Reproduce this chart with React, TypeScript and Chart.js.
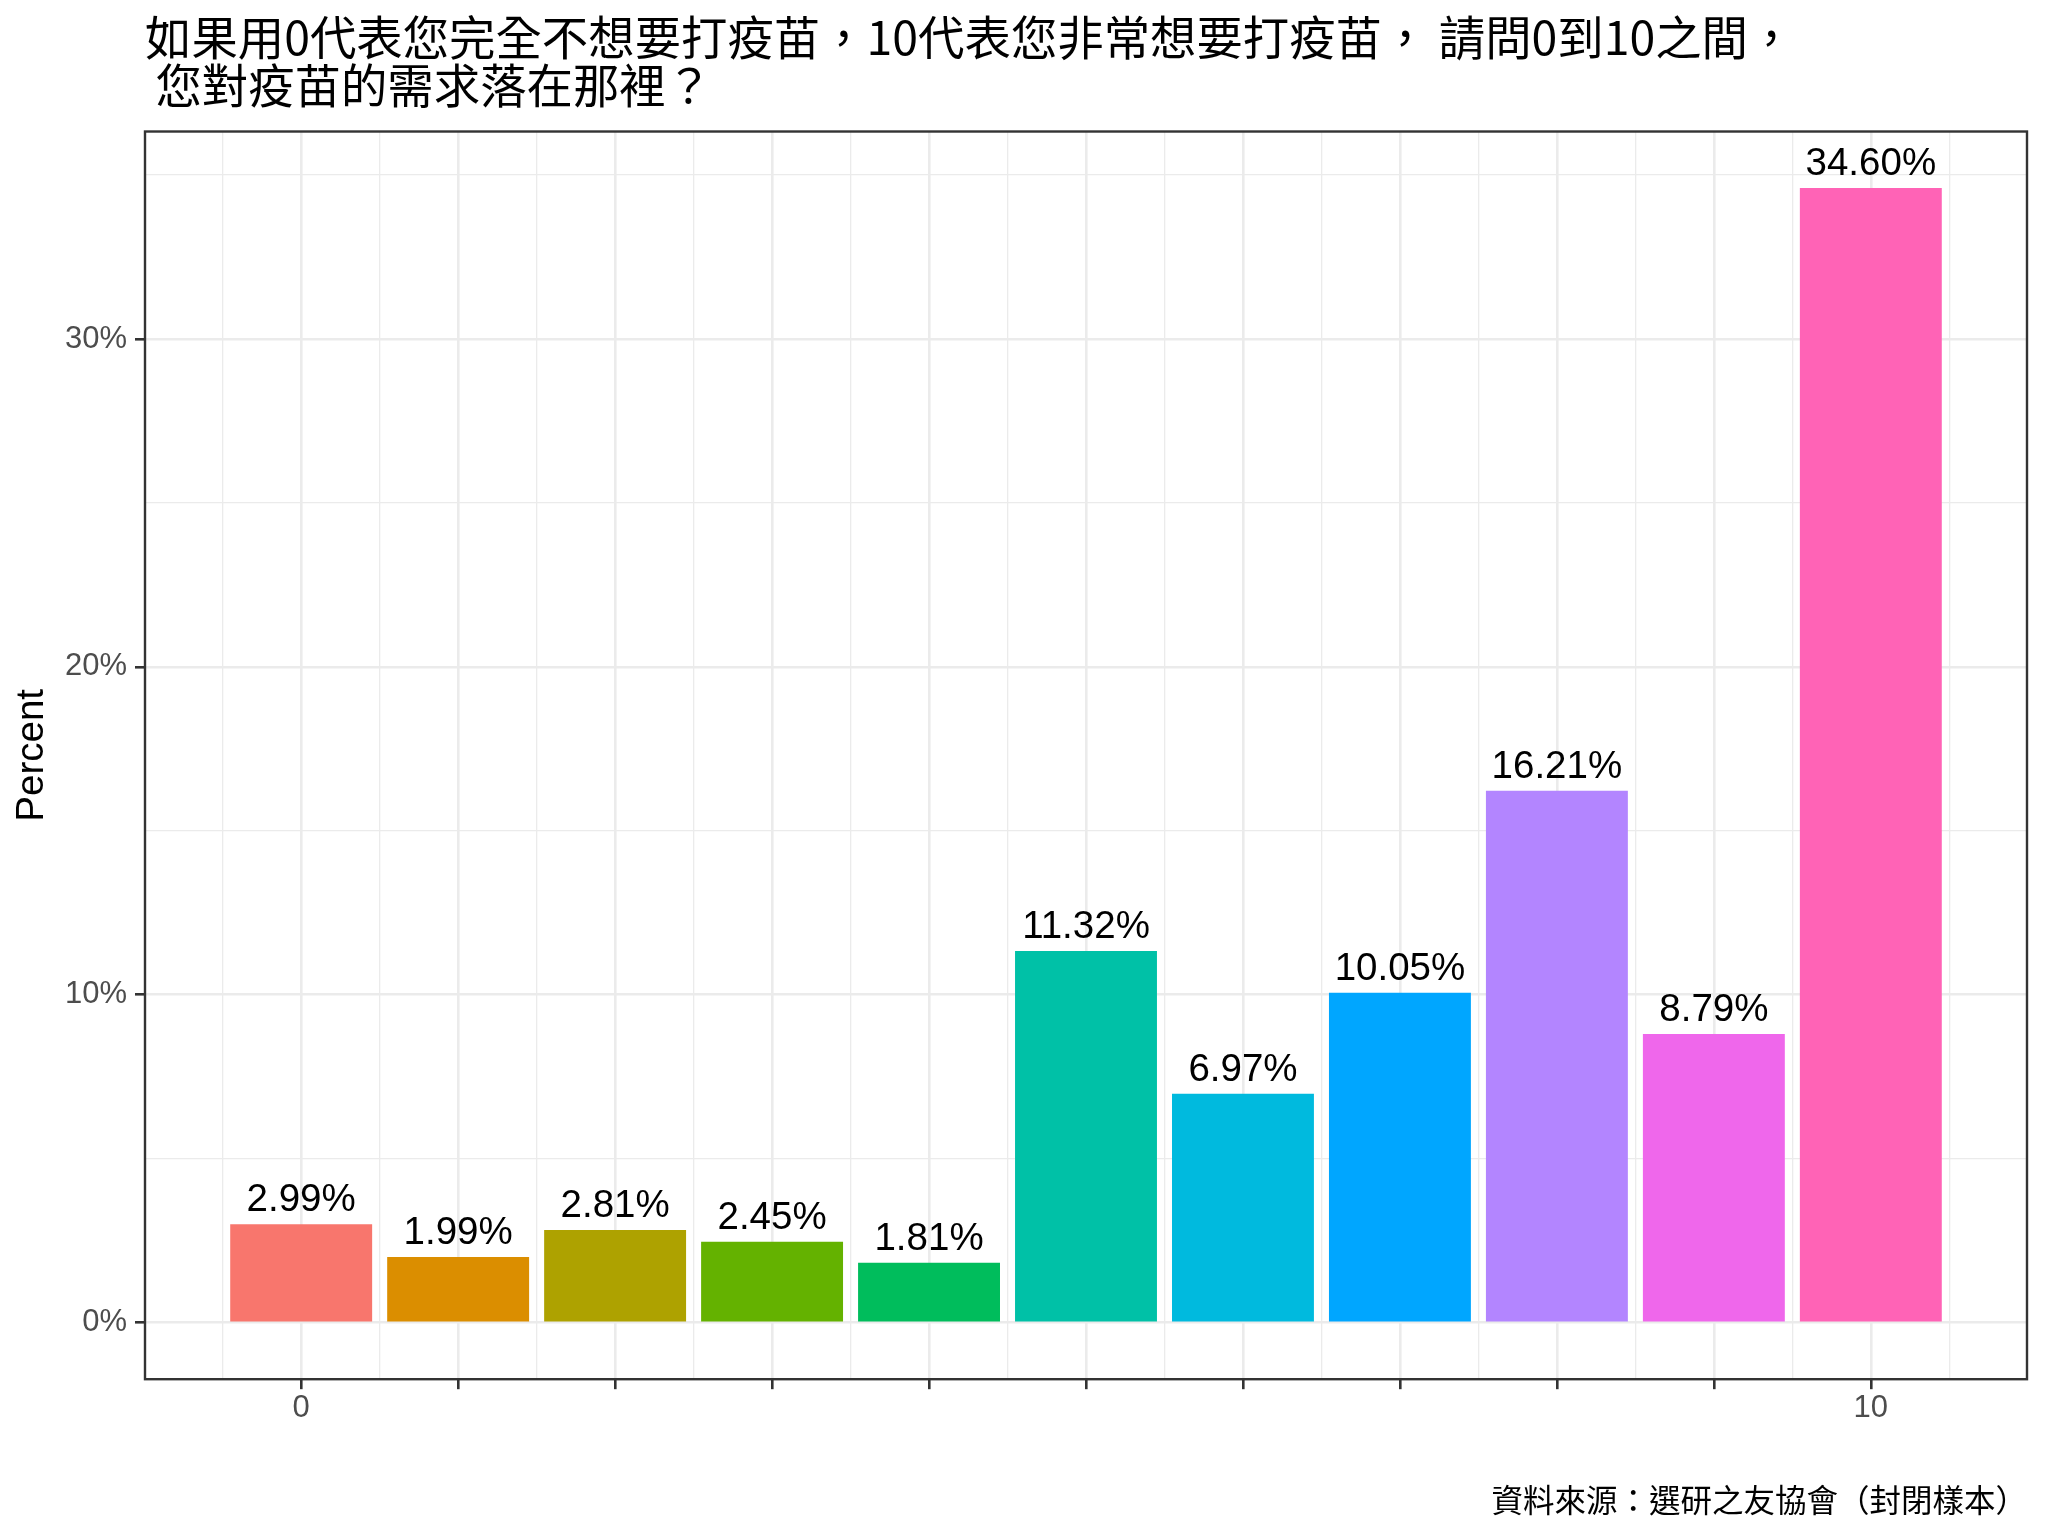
import { useEffect, useRef } from "react";
import { Chart, registerables } from "chart.js";
import type { Plugin } from "chart.js";

Chart.register(...registerables);

// Data
const scores = [0, 1, 2, 3, 4, 5, 6, 7, 8, 9, 10];
const percents = [2.99, 1.99, 2.81, 2.45, 1.81, 11.32, 6.97, 10.05, 16.21, 8.79, 34.6];
const barColors = [
  "#F8766D",
  "#DB8E00",
  "#AEA200",
  "#64B200",
  "#00BD5C",
  "#00C1A7",
  "#00BADE",
  "#00A6FF",
  "#B385FF",
  "#EF67EB",
  "#FF63B6",
];

// grid / tick positions
const xGridValues = [
  -0.5, 0, 0.5, 1, 1.5, 2, 2.5, 3, 3.5, 4, 4.5, 5, 5.5, 6, 6.5, 7, 7.5, 8, 8.5, 9, 9.5, 10, 10.5,
];
const xLabeledTicks = [0, 10];
const yGridValues = [0, 5, 10, 15, 20, 25, 30, 35];
const yLabeledTicks = [0, 10, 20, 30];

const titleLines = [
  "如果用0代表您完全不想要打疫苗，10代表您非常想要打疫苗， 請問0到10之間，",
  " 您對疫苗的需求落在那裡？",
];
const captionText = "資料來源：選研之友協會（封閉樣本）";
const yAxisTitle = "Percent";

const CJK = "'Noto Sans CJK TC', 'Noto Sans CJK SC', sans-serif";
const SANS = "'Liberation Sans', Arial, sans-serif";

const GRID = "#EBEBEB";
const DARK = "#333333";

// value labels above bars
const barLabels: Plugin<"bar"> = {
  id: "barLabels",
  afterDatasetsDraw(chart) {
    const { ctx } = chart;
    const meta = chart.getDatasetMeta(0);
    ctx.save();
    ctx.font = `38.5px ${SANS}`;
    ctx.fillStyle = "#000000";
    ctx.textAlign = "center";
    ctx.textBaseline = "alphabetic";
    meta.data.forEach((el, i) => {
      ctx.fillText(percents[i].toFixed(2) + "%", el.x, el.y - 13);
    });
    ctx.restore();
  },
};

// ggplot-ish panel border
const panelBorder: Plugin<"bar"> = {
  id: "panelBorder",
  afterDraw(chart) {
    const { ctx, chartArea } = chart;
    ctx.save();
    ctx.strokeStyle = DARK;
    ctx.lineWidth = 2.4;
    ctx.strokeRect(chartArea.left, chartArea.top, chartArea.width, chartArea.height);
    ctx.restore();
  },
};

export default function App() {
  const chartRef = useRef<HTMLCanvasElement>(null);
  const chartInstance = useRef<Chart<"bar"> | null>(null);

  useEffect(() => {
    document.body.style.margin = "0";
    if (!chartRef.current) return;

    if (chartInstance.current) {
      chartInstance.current.destroy();
    }

    chartInstance.current = new Chart(chartRef.current, {
      type: "bar",
      data: {
        datasets: [
          {
            data: scores.map((s, i) => ({ x: s, y: percents[i] })),
            backgroundColor: barColors,
            borderWidth: 0,
            barThickness: "flex",
            categoryPercentage: 0.9,
            barPercentage: 1,
          },
        ],
      },
      options: {
        animation: false,
        responsive: true,
        maintainAspectRatio: false,
        devicePixelRatio: 1,
        layout: { padding: { left: 0, right: 21, top: 0, bottom: 0 } },
        plugins: {
          legend: { display: false },
          tooltip: { enabled: false },
          title: {
            display: true,
            text: titleLines,
            align: "start",
            fullSize: false,
            color: "#000000",
            font: { family: CJK, size: 46.4, weight: "normal", lineHeight: 1.04 },
            padding: { top: 13, bottom: 22 },
          },
          subtitle: {
            display: true,
            text: captionText,
            position: "bottom",
            align: "end",
            fullSize: false,
            color: "#000000",
            font: { family: CJK, size: 31.5, weight: "normal", lineHeight: 1.2 },
            padding: { top: 32, bottom: 17 },
          },
        },
        scales: {
          x: {
            type: "linear",
            min: -0.995,
            max: 10.995,
            offset: false,
            afterBuildTicks: (scale) => {
              scale.ticks = xGridValues.map((value) => ({ value }));
            },
            afterFit: (scale) => {
              scale.height = 70;
            },
            border: { display: false },
            grid: {
              offset: false,
              color: GRID,
              lineWidth: (ctx) => (Number.isInteger(ctx.tick.value) ? 2.6 : 1.3),
              drawTicks: true,
              tickLength: 10,
              tickWidth: 2.6,
              tickColor: (ctx) =>
                Number.isInteger(ctx.tick.value) ? DARK : "rgba(0,0,0,0)",
            },
            ticks: {
              autoSkip: false,
              maxRotation: 0,
              padding: 1,
              color: "#4D4D4D",
              font: { family: SANS, size: 31 },
              callback: (v) => (xLabeledTicks.includes(Number(v)) ? String(v) : ""),
            },
          },
          y: {
            type: "linear",
            min: -1.73,
            max: 36.33,
            afterBuildTicks: (scale) => {
              scale.ticks = yGridValues.map((value) => ({ value }));
            },
            afterFit: (scale) => {
              scale.width = 145;
            },
            border: { display: false },
            grid: {
              color: GRID,
              lineWidth: (ctx) => (ctx.tick.value % 10 === 0 ? 2.6 : 1.3),
              drawTicks: true,
              tickLength: 10,
              tickWidth: 2.6,
              tickColor: (ctx) => (ctx.tick.value % 10 === 0 ? DARK : "rgba(0,0,0,0)"),
            },
            ticks: {
              autoSkip: false,
              padding: 8,
              color: "#4D4D4D",
              font: { family: SANS, size: 31 },
              callback: (v) => (yLabeledTicks.includes(Number(v)) ? v + "%" : ""),
            },
            title: {
              display: true,
              text: yAxisTitle,
              color: "#000000",
              font: { family: SANS, size: 38.5, lineHeight: 1.2 },
              padding: { top: 9, bottom: 0 },
            },
          },
        },
      },
      plugins: [barLabels, panelBorder],
    });

    return () => {
      if (chartInstance.current) {
        chartInstance.current.destroy();
        chartInstance.current = null;
      }
    };
  }, []);

  return (
    <div style={{ position: "relative", width: 2048, height: 1536, background: "#ffffff" }}>
      <canvas ref={chartRef} />
    </div>
  );
}
